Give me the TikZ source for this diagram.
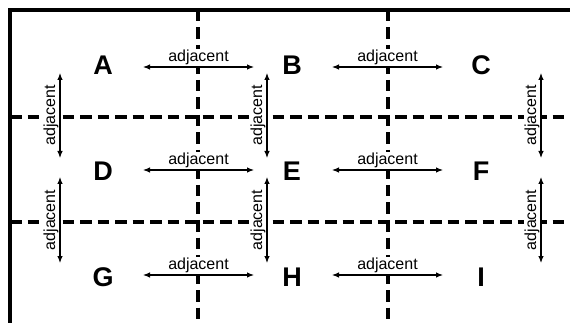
\documentclass[tikz,border=0pt]{standalone}
\usepackage{fontspec}
\setmainfont{Liberation Sans}
\usetikzlibrary{arrows.meta}
\begin{document}
\begin{tikzpicture}[x=1pt,y=-1pt,
  letter/.style={font=\fontsize{27}{27}\selectfont\bfseries, inner sep=0pt},
  adj/.style={{Latex[length=7pt,width=5.5pt]}-{Latex[length=7pt,width=5.5pt]}, line width=1.1pt},
  lbl/.style={font=\fontsize{16}{16}\selectfont, fill=white, inner sep=1pt},
  gridline/.style={line width=3.2pt, dash pattern=on 11.5pt off 6pt},
  frame/.style={line width=4pt}]
\useasboundingbox (0,0) rectangle (570,323);
% grid lines
\draw[gridline] (10,117) -- (570,117);
\draw[gridline] (10,222) -- (570,222);
\draw[gridline] (198,10) -- (198,323);
\draw[gridline] (388,10) -- (388,323);
% frame
\draw[frame] (10,323) -- (10,10.5) -- (570,10.5);
% letters
\node[letter] (A) at (103,65) {A};
\node[letter] (B) at (292,65) {B};
\node[letter] (C) at (481,65) {C};
\node[letter] (D) at (103,171) {D};
\node[letter] (E) at (292,171) {E};
\node[letter] (F) at (481,171) {F};
\node[letter] (G) at (103,277) {G};
\node[letter] (H) at (292,277) {H};
\node[letter] (I) at (481,277) {I};
% horizontal arrows
\draw[adj] ([shift={(40,2)}]A.center) -- node[lbl, above=0.5pt] {adjacent} ([shift={(-38,2)}]B.center);
\draw[adj] ([shift={(40,2)}]B.center) -- node[lbl, above=0.5pt] {adjacent} ([shift={(-38,2)}]C.center);
\draw[adj] ([shift={(40,-1)}]D.center) -- node[lbl, above=0.5pt] {adjacent} ([shift={(-38,-1)}]E.center);
\draw[adj] ([shift={(40,-1)}]E.center) -- node[lbl, above=0.5pt] {adjacent} ([shift={(-38,-1)}]F.center);
\draw[adj] ([shift={(40,-2)}]G.center) -- node[lbl, above=0.5pt] {adjacent} ([shift={(-38,-2)}]H.center);
\draw[adj] ([shift={(40,-2)}]H.center) -- node[lbl, above=0.5pt] {adjacent} ([shift={(-38,-2)}]I.center);
% vertical arrows
\draw[adj] ([shift={(-43,8)}]A.center) -- node[lbl, rotate=90, anchor=south] {adjacent} ([shift={(-43,-13)}]D.center);
\draw[adj] ([shift={(-25,8)}]B.center) -- node[lbl, rotate=90, anchor=south] {adjacent} ([shift={(-25,-13)}]E.center);
\draw[adj] ([shift={(60,8)}]C.center) -- node[lbl, rotate=90, anchor=south] {adjacent} ([shift={(60,-13)}]F.center);
\draw[adj] ([shift={(-43,6)}]D.center) -- node[lbl, rotate=90, anchor=south] {adjacent} ([shift={(-43,-14)}]G.center);
\draw[adj] ([shift={(-25,6)}]E.center) -- node[lbl, rotate=90, anchor=south] {adjacent} ([shift={(-25,-14)}]H.center);
\draw[adj] ([shift={(60,6)}]F.center) -- node[lbl, rotate=90, anchor=south] {adjacent} ([shift={(60,-14)}]I.center);
\end{tikzpicture}
\end{document}
